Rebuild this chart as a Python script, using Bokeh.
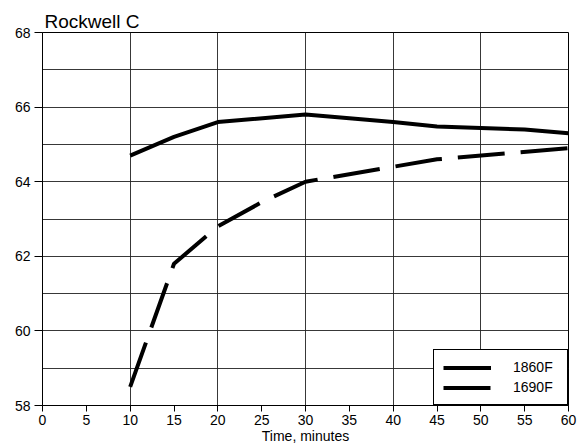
from bokeh.plotting import figure
from bokeh.models import SingleIntervalTicker, FixedTicker, Legend, LegendItem, Range1d
from bokeh.embed import file_html
from bokeh.resources import INLINE

time_1860 = [10, 15, 20, 30, 40, 45, 55, 60]
hrc_1860 = [64.7, 65.2, 65.6, 65.8, 65.6, 65.48, 65.4, 65.3]
time_1690 = [10, 15, 20, 25, 30, 45, 60]
hrc_1690 = [58.5, 61.8, 62.8, 63.45, 64.0, 64.6, 64.9]
series_labels = ["1860F", "1690F"]
x_ticks = list(range(0, 61, 5))
y_ticks = [58, 60, 62, 64, 66, 68]

FONT = "Liberation Sans"

p = figure(frame_width=526, frame_height=373, output_backend="svg", toolbar_location=None,
           x_range=Range1d(0, 60), y_range=Range1d(58, 68),
           min_border_left=42, min_border_right=10, min_border_top=32, min_border_bottom=0,
           title="Rockwell C")
p.title.text_font = FONT
p.title.text_font_size = "19px"
p.title.text_font_style = "normal"
p.title.text_color = "black"
p.title.align = "left"
p.title.offset = 2
p.title.standoff = 2

p.outline_line_color = "black"
p.outline_line_width = 1
p.outline_line_alpha = 1

for ax in (p.xaxis[0], p.yaxis[0]):
    ax.axis_line_color = "black"
    ax.major_tick_line_color = "black"
    ax.major_tick_in = 0
    ax.minor_tick_line_color = None
    ax.major_label_text_font = FONT
    ax.major_label_text_font_size = "14px"
    ax.major_label_text_color = "black"
    ax.axis_label_text_font = FONT
    ax.axis_label_text_font_size = "14px"
    ax.axis_label_text_font_style = "normal"
    ax.axis_label_text_color = "black"

p.xaxis.ticker = FixedTicker(ticks=x_ticks)
p.yaxis.ticker = FixedTicker(ticks=y_ticks)
p.xaxis.major_tick_out = 6
p.yaxis.major_tick_out = 8
p.xaxis.major_label_standoff = 3
p.yaxis.major_label_standoff = 4
p.xaxis.axis_label = "Time, minutes"
p.xaxis.axis_label_standoff = 0

p.xgrid.ticker = SingleIntervalTicker(interval=10)
p.ygrid.ticker = SingleIntervalTicker(interval=1)
for g in (p.xgrid[0], p.ygrid[0]):
    g.grid_line_color = "#222222"
    g.grid_line_width = 1
    g.grid_line_alpha = 0.9

r1 = p.line(time_1860, hrc_1860, line_color="black", line_width=4)
r2 = p.line(time_1690, hrc_1690, line_color="black", line_width=4, line_dash="47 16")

legend = Legend(items=[LegendItem(label=series_labels[0], renderers=[r1]),
                       LegendItem(label=series_labels[1], renderers=[r2])],
                location="bottom_right", margin=0, padding=9, spacing=4,
                glyph_width=48, glyph_height=13, label_height=13, label_width=45,
                label_standoff=22,
                border_line_color="black", border_line_width=1, border_line_alpha=1,
                background_fill_color="white", background_fill_alpha=1,
                label_text_font=FONT, label_text_font_size="14px",
                label_text_color="black")
p.add_layout(legend, "center")

open("out.html", "w").write(file_html(p, INLINE))
